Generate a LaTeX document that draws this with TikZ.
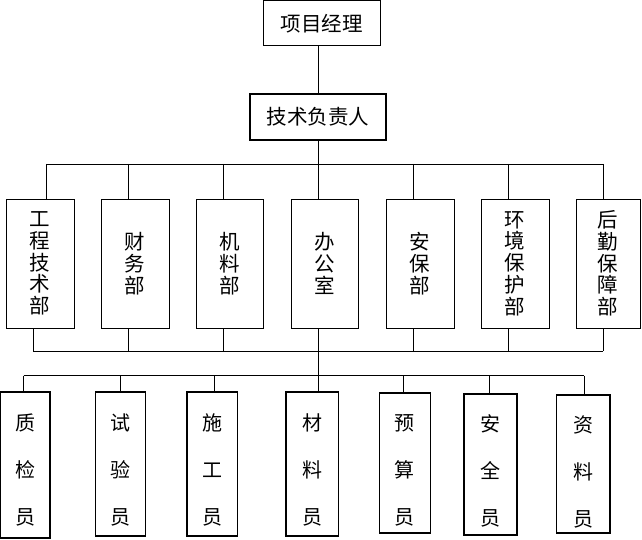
\documentclass[tikz,border=0pt]{standalone}
\usepackage{fontspec}
\newfontfamily\cjk{Noto Sans CJK SC}
\begin{document}
\begin{tikzpicture}[x=1pt,y=-1pt,
  box/.style={draw, line width=1pt, inner sep=0pt, align=center,
    font=\cjk\fontsize{20.5}{21.7}\selectfont},
  ubox/.style={box, minimum height=129pt},
  lbox/.style={draw, line width=1.1pt, inner sep=0pt},
  ltext/.style={inner sep=0pt, align=center, font=\cjk\fontsize{20}{47}\selectfont},
  wire/.style={line width=0.8pt}]
\useasboundingbox (0,0) rectangle (642,540);
% top
\node[box, minimum width=117pt, minimum height=45pt] (pm) at (321.5,23.5) {项目经理};
\node[box, line width=2pt, minimum width=136pt, minimum height=46pt] (tech) at (318,117) {技术负责人};
% departments
\node[ubox, minimum width=68pt] (d1) at (40,263.5) {工\\程\\技\\术\\部};
\node[ubox, minimum width=68pt] (d2) at (135,263.5) {财\\务\\部};
\node[ubox, minimum width=67pt] (d3) at (229.5,263.5) {机\\料\\部};
\node[ubox, minimum width=67pt] (d4) at (324.5,263.5) {办\\公\\室};
\node[ubox, minimum width=68pt] (d5) at (420,263.5) {安\\保\\部};
\node[ubox, minimum width=68pt] (d6) at (515,263.5) {环\\境\\保\\护\\部};
\node[ubox, minimum width=64pt] (d7) at (608,263.5) {后\\勤\\保\\障\\部};
% bus coordinates
\coordinate (ta) at (46.5,164);
\coordinate (tb) at (128.5,164);
\coordinate (tc) at (223,164);
\coordinate (td) at (318,164);
\coordinate (te) at (413,164);
\coordinate (tf) at (508,164);
\coordinate (tg) at (603,164);
\coordinate (ba) at (33,351);
\coordinate (bb) at (128.5,351);
\coordinate (bc) at (223,351);
\coordinate (bd) at (318,351);
\coordinate (be) at (413,351);
\coordinate (bf) at (508,351);
\coordinate (bg) at (603,351);
\coordinate (ca) at (23.5,375.5);
\coordinate (cb) at (120.5,375.5);
\coordinate (cc) at (214.5,375.5);
\coordinate (cd) at (318,375.5);
\coordinate (ce) at (403,375.5);
\coordinate (cf) at (489,375.5);
\coordinate (cg) at (584,375.5);
% connectors
\draw[wire] (pm.south -| td) -- (tech.north -| td);
\draw[wire] (tech.south -| td) -- (td);
\draw[wire] (ta) -- (tg);
\foreach \c/\d in {ta/d1,tb/d2,tc/d3,td/d4,te/d5,tf/d6,tg/d7}
  \draw[wire] (\c) -- (\c |- \d.north);
\foreach \c/\d in {ba/d1,bb/d2,bc/d3,bd/d4,be/d5,bf/d6,bg/d7}
  \draw[wire] (\c |- \d.south) -- (\c);
\draw[wire] (ba) -- (bg);
% staff
\node[lbox, minimum width=50pt, minimum height=146pt] (s1) at (25,465) {};
\node[lbox, minimum width=50pt, minimum height=144pt] (s2) at (120.4,464) {};
\node[lbox, minimum width=50.4pt, minimum height=144pt] (s3) at (212.2,464) {};
\node[lbox, minimum width=52.7pt, minimum height=144pt] (s4) at (312.3,464) {};
\node[lbox, minimum width=51.5pt, minimum height=140pt] (s5) at (404.8,463) {};
\node[lbox, minimum width=53pt, minimum height=141pt] (s6) at (490.5,464.5) {};
\node[lbox, minimum width=53.6pt, minimum height=138pt] (s7) at (583.2,464) {};
\node[ltext] (t1) at (25,470) {质\\检\\员};
\node[ltext] (t2) at (120.4,470) {试\\验\\员};
\node[ltext] (t3) at (212.2,470) {施\\工\\员};
\node[ltext] (t4) at (312.3,470) {材\\料\\员};
\node[ltext] (t5) at (404.8,470) {预\\算\\员};
\node[ltext] (t6) at (490.5,471) {安\\全\\员};
\node[ltext] (t7) at (583.2,472) {资\\料\\员};
\draw[wire] (bd) -- (cd);
\draw[wire] (ca) -- (cg);
\foreach \c/\d in {ca/s1,cb/s2,cc/s3,cd/s4,ce/s5,cf/s6,cg/s7}
  \draw[wire] (\c) -- (\c |- \d.north);
\end{tikzpicture}
\end{document}
